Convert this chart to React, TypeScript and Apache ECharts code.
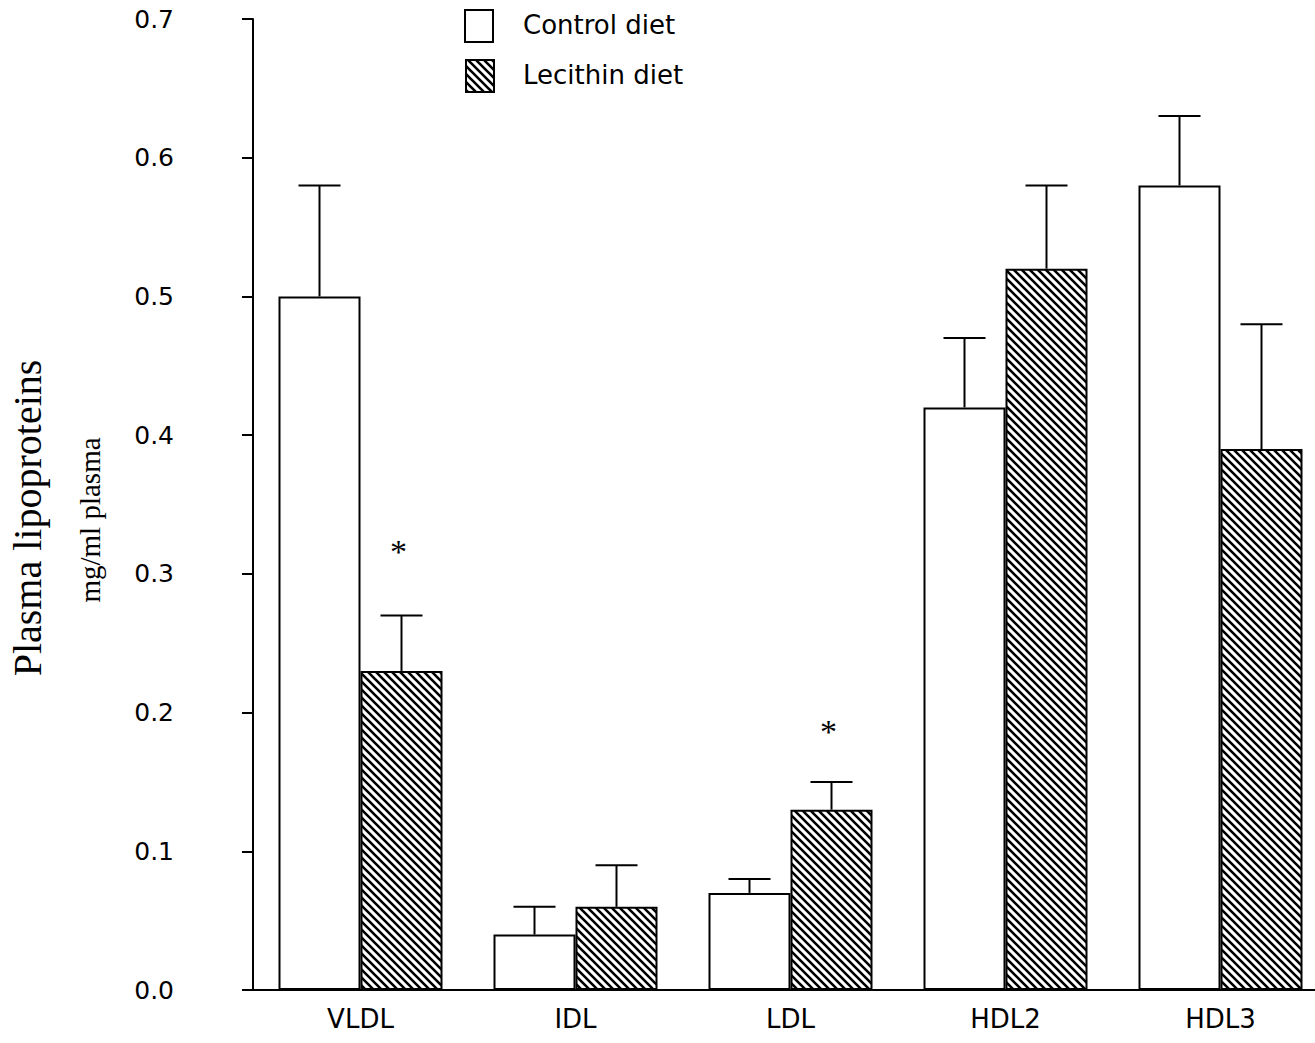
import React, { useEffect, useRef } from "react";
import * as echarts from "echarts";

// Lipoprotein fractions and group results (mg/ml plasma)
const categories = ["VLDL", "IDL", "LDL", "HDL2", "HDL3"];
const controlMean = [0.5, 0.04, 0.07, 0.42, 0.58];
const controlErr = [0.08, 0.02, 0.01, 0.05, 0.05];
const lecithinMean = [0.23, 0.06, 0.13, 0.52, 0.39];
const lecithinErr = [0.04, 0.03, 0.02, 0.06, 0.09];
// significance marks over the lecithin bars (null = none)
const lecithinStar = [0.32, null, 0.19, null, null];
const yTicks = [0, 0.1, 0.2, 0.3, 0.4, 0.5, 0.6, 0.7];

const BAR_W = 82;
const SANS = "DejaVu Sans";
const SERIF = "Liberation Serif";

function makeHatch(): HTMLCanvasElement {
  const s = 8;
  const c = document.createElement("canvas");
  c.width = s;
  c.height = s;
  const ctx = c.getContext("2d")!;
  ctx.fillStyle = "#fff";
  ctx.fillRect(0, 0, s, s);
  ctx.strokeStyle = "#000";
  ctx.lineWidth = 2.6;
  ctx.beginPath();
  ctx.moveTo(-1, -1);
  ctx.lineTo(s + 1, s + 1);
  ctx.moveTo(-1, s - 1);
  ctx.lineTo(1, s + 1);
  ctx.moveTo(s - 1, -1);
  ctx.lineTo(s + 1, 1);
  ctx.stroke();
  return c;
}

export default function App() {
  const ref = useRef<HTMLDivElement>(null);

  useEffect(() => {
    if (!ref.current) return;
    const chart = echarts.init(ref.current, undefined, { renderer: "svg" });
    const hatch = { image: makeHatch(), repeat: "repeat" };

    const errData: number[][] = [];
    categories.forEach((_, i) => {
      errData.push([i, controlMean[i], controlMean[i] + controlErr[i], -1]);
      errData.push([i, lecithinMean[i], lecithinMean[i] + lecithinErr[i], 1]);
    });
    const starData: number[][] = [];
    lecithinStar.forEach((v, i) => {
      if (v != null) starData.push([i, v]);
    });

    chart.setOption({
      animation: false,
      backgroundColor: "#fff",
      grid: { left: 253, top: 19, width: 1075, height: 971, outerBoundsMode: "none", containLabel: false },
      xAxis: {
        type: "category",
        data: categories,
        boundaryGap: true,
        axisLine: { lineStyle: { color: "#000", width: 2 } },
        axisTick: { length: 6, lineStyle: { color: "#000", width: 2 } },
        axisLabel: { color: "#000", fontFamily: SANS, fontSize: 26, margin: 16 },
      },
      yAxis: {
        type: "value",
        min: 0,
        max: 0.7,
        interval: 0.1,
        splitLine: { show: false },
        axisLine: { show: true, lineStyle: { color: "#000", width: 2 } },
        axisTick: { show: true, length: 11, lineStyle: { color: "#000", width: 2 } },
        axisLabel: {
          color: "#000",
          fontFamily: SANS,
          fontSize: 25,
          margin: 79,
          formatter: (v: number) => {
            const t = yTicks.find((k) => Math.abs(k - v) < 1e-9);
            return (t ?? v).toFixed(1);
          },
        },
      },
      graphic: [
        {
          type: "rect",
          shape: { x: 465, y: 10, width: 28, height: 32 },
          style: { fill: "#fff", stroke: "#000", lineWidth: 2 },
        },
        {
          type: "text",
          x: 523,
          y: 25,
          style: { text: "Control diet", font: `26px "${SANS}"`, fill: "#000", verticalAlign: "middle" },
        },
        {
          type: "rect",
          shape: { x: 466, y: 60, width: 28, height: 32 },
          style: { fill: hatch, stroke: "#000", lineWidth: 2 },
        },
        {
          type: "text",
          x: 523,
          y: 75,
          style: { text: "Lecithin diet", font: `26px "${SANS}"`, fill: "#000", verticalAlign: "middle" },
        },
        {
          type: "text",
          x: 27,
          y: 518,
          rotation: Math.PI / 2,
          style: {
            text: "Plasma lipoproteins",
            font: `40px "${SERIF}"`,
            fill: "#000",
            align: "center",
            verticalAlign: "middle",
          },
        },
        {
          type: "text",
          x: 90,
          y: 520,
          rotation: Math.PI / 2,
          style: {
            text: "mg/ml plasma",
            font: `29px "${SERIF}"`,
            fill: "#000",
            align: "center",
            verticalAlign: "middle",
          },
        },
      ],
      series: [
        {
          name: "Control diet",
          type: "bar",
          data: controlMean,
          barWidth: BAR_W,
          barGap: "0%",
          itemStyle: { color: "#fff", borderColor: "#000", borderWidth: 2 },
          z: 2,
        },
        {
          name: "Lecithin diet",
          type: "bar",
          data: lecithinMean,
          barWidth: BAR_W,
          barGap: "0%",
          itemStyle: { color: hatch, borderColor: "#000", borderWidth: 2 },
          z: 2,
        },
        {
          name: "errors",
          type: "custom",
          data: errData,
          encode: { x: 0, y: [1, 2] },
          z: 3,
          renderItem: (_p: any, api: any) => {
            const base = api.coord([api.value(0), api.value(1)]);
            const top = api.coord([api.value(0), api.value(2)]);
            const x = base[0] + api.value(3) * (BAR_W / 2);
            const cap = 21;
            const style = { stroke: "#000", lineWidth: 2 };
            return {
              type: "group",
              children: [
                { type: "line", shape: { x1: x, y1: base[1], x2: x, y2: top[1] }, style },
                { type: "line", shape: { x1: x - cap, y1: top[1], x2: x + cap, y2: top[1] }, style },
              ],
            };
          },
        },
        {
          name: "stars",
          type: "custom",
          data: starData,
          encode: { x: 0, y: 1 },
          z: 3,
          renderItem: (_p: any, api: any) => {
            const pt = api.coord([api.value(0), api.value(1)]);
            return {
              type: "text",
              x: pt[0] + BAR_W / 2 - 3,
              y: pt[1] + 5,
              style: {
                text: "*",
                font: `34px "${SERIF}"`,
                fill: "#000",
                align: "center",
                verticalAlign: "middle",
              },
            };
          },
        },
      ],
    });

    return () => chart.dispose();
  }, []);

  return (
    <div
      ref={ref}
      style={{ position: "fixed", left: 0, top: 0, width: 1315, height: 1043, background: "#fff" }}
    />
  );
}
